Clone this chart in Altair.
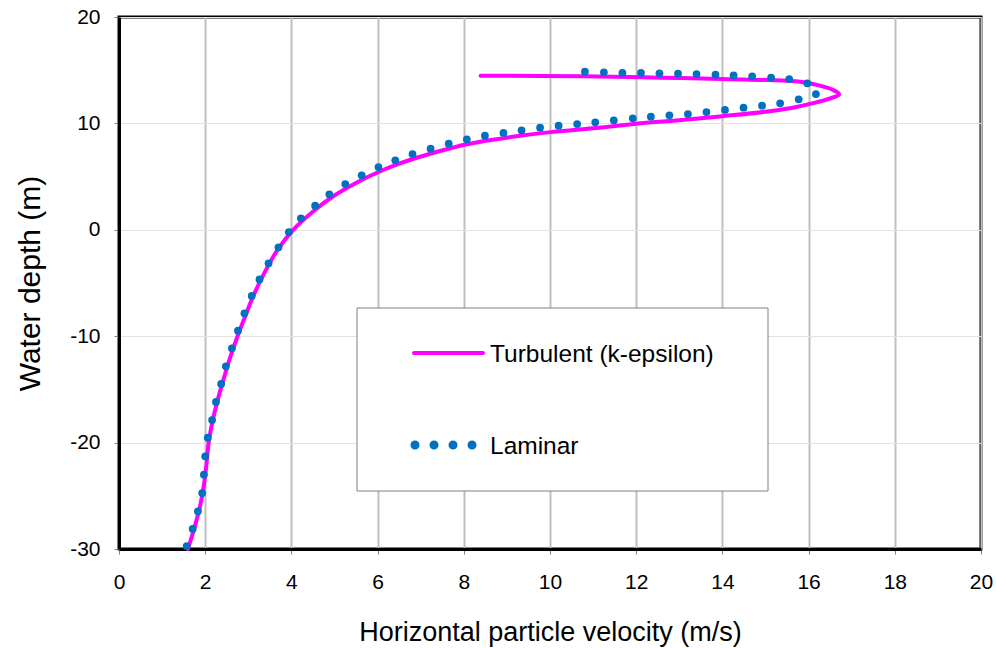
import altair as alt
import pandas as pd

# Laminar profile: horizontal velocity (m/s) vs. water depth (m), from the seabed up
laminar_velocity = [
    1.57, 1.71, 1.83, 1.93, 1.97, 2.00, 2.06, 2.16, 2.25, 2.37,
    2.48, 2.62, 2.76, 2.91, 3.08, 3.26, 3.47, 3.70, 3.94, 4.22,
    4.55, 4.88, 5.25, 5.63, 6.02, 6.41, 6.81, 7.23, 7.65, 8.07,
    8.49, 8.92, 9.34, 9.77, 10.20, 10.63, 11.05, 11.48, 11.92, 12.34,
    12.77, 13.20, 13.63, 14.06, 14.49, 14.92, 15.34, 15.77, 16.17, 15.97,
    15.55, 15.13, 14.69, 14.26, 13.84, 13.40, 12.97, 12.54, 12.11, 11.68,
    11.25, 10.81,
]
laminar_depth = [
    -29.72, -28.12, -26.46, -24.74, -23.02, -21.29, -19.54, -17.88, -16.18, -14.49,
    -12.83, -11.14, -9.48, -7.85, -6.22, -4.67, -3.15, -1.65, -0.21, 1.08,
    2.27, 3.34, 4.30, 5.12, 5.90, 6.53, 7.12, 7.62, 8.09, 8.50,
    8.84, 9.10, 9.35, 9.60, 9.78, 9.94, 10.10, 10.29, 10.48, 10.63,
    10.76, 10.88, 11.07, 11.26, 11.48, 11.66, 11.89, 12.26, 12.76, 13.77,
    14.17, 14.30, 14.43, 14.52, 14.58, 14.64, 14.67, 14.71, 14.74, 14.76,
    14.80, 14.86,
]

# Turbulent (k-epsilon) profile, same orientation
turbulent_velocity = [
    1.60, 1.75, 1.88, 1.97, 2.03, 2.08, 2.17, 2.29, 2.43, 2.58,
    2.75, 2.94, 3.14, 3.38, 3.66, 4.04, 4.51, 4.97, 5.52, 6.06,
    6.44, 6.85, 7.22, 7.60, 7.99, 8.38, 8.76, 9.30, 10.00, 11.00,
    12.00, 13.00, 14.00, 15.00, 15.60, 16.10, 16.50, 16.71, 16.55, 16.15,
    15.80, 15.03, 14.20, 12.55, 10.77, 8.39,
]
turbulent_depth = [
    -30.0, -28.0, -26.0, -24.0, -22.0, -20.0, -18.0, -16.0, -14.0, -12.0,
    -10.0, -8.0, -6.0, -4.0, -2.0, 0.0, 1.75, 3.15, 4.45, 5.50,
    6.12, 6.70, 7.15, 7.57, 7.97, 8.28, 8.52, 8.83, 9.18, 9.55,
    9.97, 10.30, 10.68, 11.10, 11.45, 11.90, 12.35, 12.73, 13.18, 13.66,
    13.92, 14.08, 14.16, 14.30, 14.43, 14.48,
]

x_ticks = list(range(0, 21, 2))
y_ticks = list(range(-30, 21, 10))

FONT = "Liberation Sans"
MAGENTA = "#FF00FF"
BLUE = "#0070C0"

turb = pd.DataFrame({
    "v": turbulent_velocity,
    "d": turbulent_depth,
    "i": range(len(turbulent_velocity)),
})
lam = pd.DataFrame({"v": laminar_velocity, "d": laminar_depth})

x_enc = alt.X(
    "v:Q",
    scale=alt.Scale(domain=[0, 20], nice=False),
    axis=alt.Axis(
        values=x_ticks,
        title="Horizontal particle velocity (m/s)",
        grid=True,
        gridColor="#BFBFBF",
        gridWidth=2,
        labelFontSize=21,
        titleFontSize=27,
        labelPadding=17,
        titlePadding=27,
        labelFlush=False,
    ),
)
y_enc = alt.Y(
    "d:Q",
    scale=alt.Scale(domain=[-30, 20], nice=False),
    axis=alt.Axis(
        values=y_ticks,
        title="Water depth (m)",
        grid=True,
        gridColor="#E3E3E3",
        gridWidth=1,
        labelFontSize=21,
        titleFontSize=30,
        labelPadding=14,
        titlePadding=24,
        labelFlush=False,
        labelExpr="'' + datum.value",
    ),
)

turb_line = (
    alt.Chart(turb)
    .mark_line(color=MAGENTA, strokeWidth=4, interpolate="catmull-rom", strokeCap="round")
    .encode(x=x_enc, y=y_enc, order="i:Q")
)

lam_points = (
    alt.Chart(lam)
    .mark_circle(color=BLUE, size=60, opacity=1)
    .encode(x="v:Q", y="d:Q")
)

# Legend panel drawn inside the plot area
one = pd.DataFrame({"k": [0]})
legend_box = alt.Chart(one).mark_rect(
    fill="white", stroke="#808080", strokeWidth=1
).encode(
    x=alt.value(238), x2=alt.value(649), y=alt.value(291), y2=alt.value(474)
)
legend_line = alt.Chart(one).mark_rule(
    color=MAGENTA, strokeWidth=4, strokeCap="round"
).encode(x=alt.value(295), x2=alt.value(364), y=alt.value(336))
legend_dots = alt.Chart(one).mark_rule(
    color=BLUE, strokeWidth=9, strokeCap="round", strokeDash=[0.01, 19]
).encode(x=alt.value(296), x2=alt.value(354), y=alt.value(428))
legend_text1 = alt.Chart(one).mark_text(
    text="Turbulent (k-epsilon)", align="left", baseline="middle",
    fontSize=24.5, font=FONT, color="black"
).encode(x=alt.value(371), y=alt.value(338))
legend_text2 = alt.Chart(one).mark_text(
    text="Laminar", align="left", baseline="middle",
    fontSize=24.5, font=FONT, color="black"
).encode(x=alt.value(371), y=alt.value(430))

chart = (
    alt.layer(turb_line, lam_points, legend_box, legend_line, legend_dots,
              legend_text1, legend_text2)
    .properties(
        width=862,
        height=532,
        padding={"left": 119, "top": 17, "right": 15, "bottom": 99},
        autosize=alt.AutoSizeParams(type="none"),
        background="white",
    )
    .configure_view(stroke="black", strokeWidth=3)
    .configure_axis(
        labelFont=FONT,
        titleFont=FONT,
        labelColor="black",
        titleColor="black",
        titleFontWeight="normal",
        domainColor="black",
        domainWidth=3,
        tickColor="#808080",
        tickSize=5,
        tickWidth=1,
    )
)

chart.save("out.html", embed_options={"renderer": "svg", "actions": False})
